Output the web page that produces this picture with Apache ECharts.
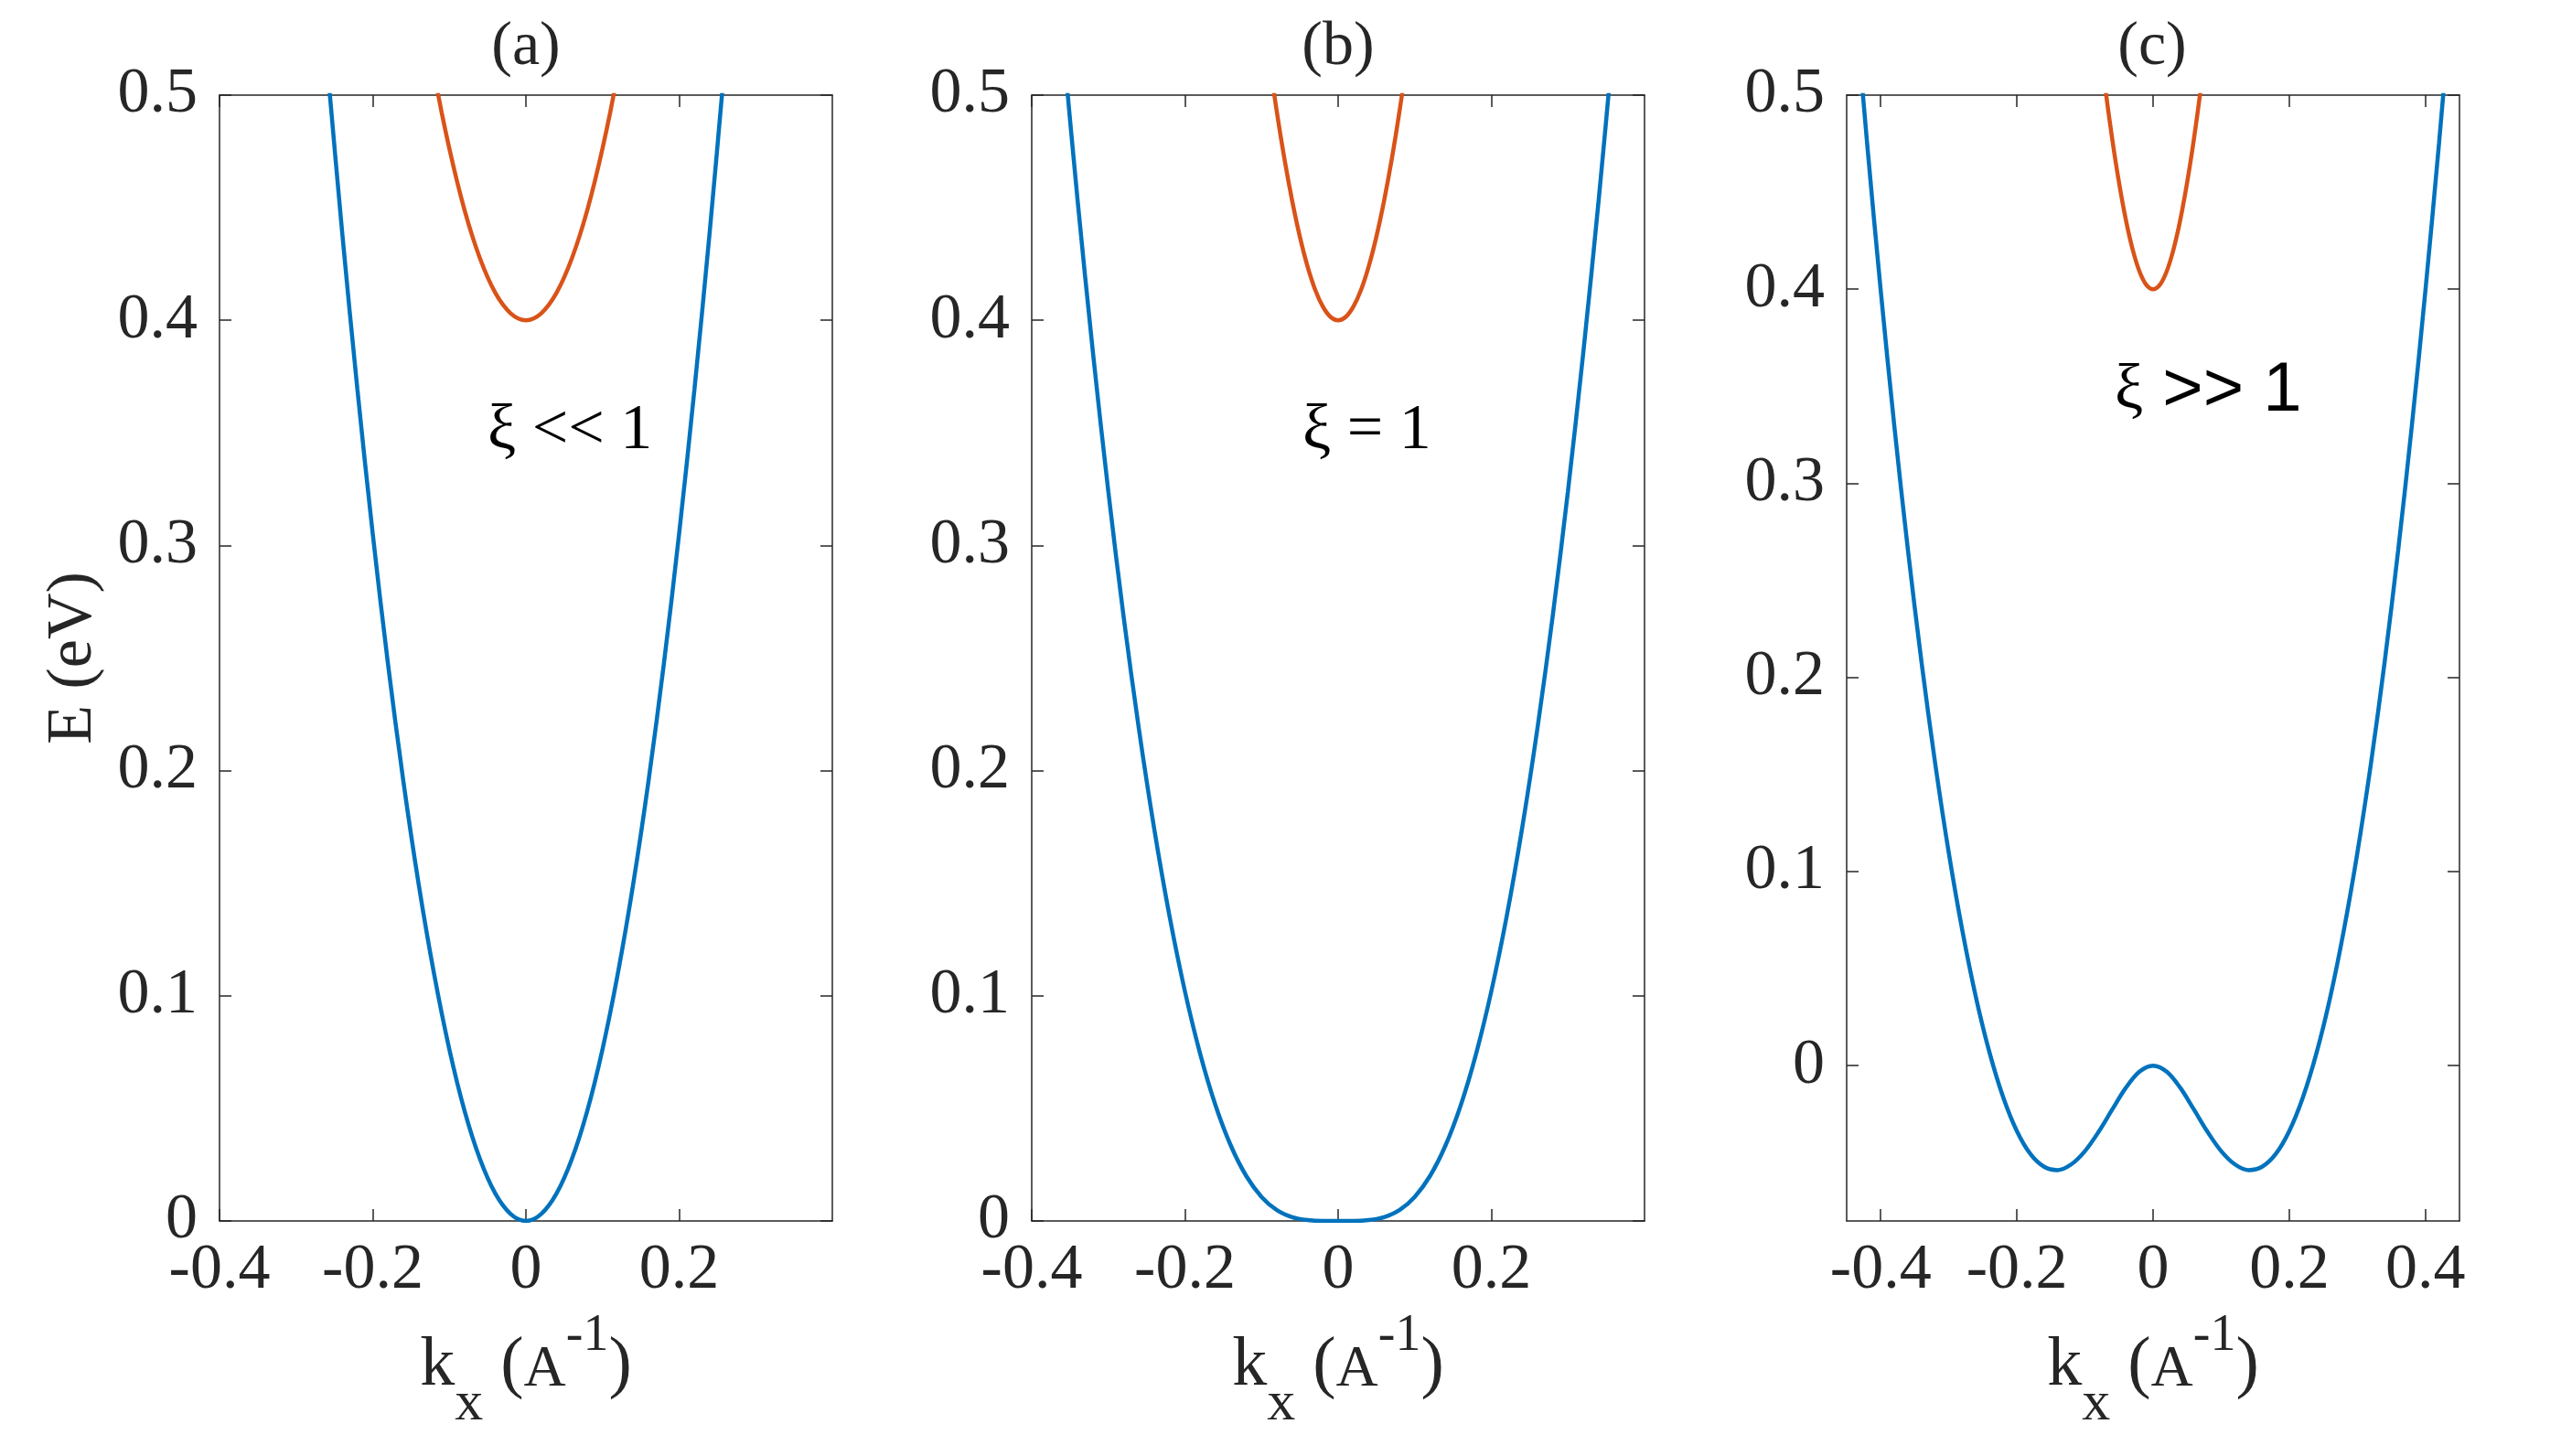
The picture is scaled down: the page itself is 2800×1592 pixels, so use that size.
<!DOCTYPE html>
<html>
<head>
<meta charset="utf-8">
<script src="https://cdn.jsdelivr.net/npm/echarts@6/dist/echarts.min.js"></script>
<style>
html,body{margin:0;padding:0;background:#ffffff;}
#chart{width:2800px;height:1592px;}
</style>
</head>
<body>
<div id="chart"></div>
<script>
// ---------- data ----------
const panelTitles = ['(a)', '(b)', '(c)'];

// tick labels
const xTicksAB = [-0.4, -0.2, 0, 0.2];
const xTicksC = [-0.4, -0.2, 0, 0.2, 0.4];
const yTicks = [0, 0.1, 0.2, 0.3, 0.4, 0.5];

// panel (a)  xi << 1
const kA = [-0.26,-0.24,-0.22,-0.20,-0.18,-0.16,-0.14,-0.12,-0.10,-0.08,-0.06,-0.04,-0.02,0,
            0.02,0.04,0.06,0.08,0.10,0.12,0.14,0.16,0.18,0.20,0.22,0.24,0.26];
const eALower = [0.5158,0.4395,0.3693,0.3052,0.2472,0.1953,0.1495,0.1099,0.0763,0.0488,0.0275,0.0122,0.0031,0,
                 0.0031,0.0122,0.0275,0.0488,0.0763,0.1099,0.1495,0.1953,0.2472,0.3052,0.3693,0.4395,0.5158];
const kAUp = [-0.12,-0.11,-0.10,-0.09,-0.08,-0.07,-0.06,-0.05,-0.04,-0.03,-0.02,-0.01,0,
              0.01,0.02,0.03,0.04,0.05,0.06,0.07,0.08,0.09,0.10,0.11,0.12];
const eAUpper = [0.5099,0.4923,0.4763,0.4618,0.4488,0.4374,0.4275,0.4191,0.4122,0.4069,0.4031,0.4008,0.4,
                 0.4008,0.4031,0.4069,0.4122,0.4191,0.4275,0.4374,0.4488,0.4618,0.4763,0.4923,0.5099];

// panel (b)  xi = 1
const kB = [-0.36,-0.34,-0.32,-0.30,-0.28,-0.26,-0.24,-0.22,-0.20,-0.18,-0.16,-0.14,-0.12,-0.10,-0.08,-0.06,-0.04,-0.02,0,
            0.02,0.04,0.06,0.08,0.10,0.12,0.14,0.16,0.18,0.20,0.22,0.24,0.26,0.28,0.30,0.32,0.34,0.36];
const eBLower = [0.5262,0.4529,0.3855,0.3240,0.2683,0.2183,0.1740,0.1352,0.1020,0.0741,0.0513,0.0334,0.0200,0.0107,0.0048,0.0017,0.0004,0.0000,0,
                 0.0000,0.0004,0.0017,0.0048,0.0107,0.0200,0.0334,0.0513,0.0741,0.1020,0.1352,0.1740,0.2183,0.2683,0.3240,0.3855,0.4529,0.5262];
const kBUp = [-0.09,-0.08,-0.07,-0.06,-0.05,-0.04,-0.03,-0.02,-0.01,0,0.01,0.02,0.03,0.04,0.05,0.06,0.07,0.08,0.09];
const eBUpper = [0.5158,0.4925,0.4715,0.4531,0.4372,0.4240,0.4136,0.4061,0.4015,0.4,
                 0.4015,0.4061,0.4136,0.4240,0.4372,0.4531,0.4715,0.4925,0.5158];

// panel (c)  xi >> 1
const kC = [-0.44,-0.42,-0.40,-0.38,-0.36,-0.34,-0.32,-0.30,-0.28,-0.26,-0.24,-0.22,-0.20,-0.18,-0.16,-0.14,-0.12,-0.10,-0.08,-0.06,-0.04,-0.02,0,
            0.02,0.04,0.06,0.08,0.10,0.12,0.14,0.16,0.18,0.20,0.22,0.24,0.26,0.28,0.30,0.32,0.34,0.36,0.38,0.40,0.42,0.44];
const eCLower = [0.5572,0.4753,0.3994,0.3295,0.2656,0.2077,0.1557,0.1096,0.0694,0.0350,0.0065,-0.0164,-0.0337,-0.0456,-0.0521,-0.0538,-0.0508,-0.0440,-0.0341,-0.0226,-0.0114,-0.0031,0,
                 -0.0031,-0.0114,-0.0226,-0.0341,-0.0440,-0.0508,-0.0538,-0.0521,-0.0456,-0.0337,-0.0164,0.0065,0.0350,0.0694,0.1096,0.1557,0.2077,0.2656,0.3295,0.3994,0.4753,0.5572];
const kCUp = [-0.08,-0.07,-0.06,-0.05,-0.04,-0.03,-0.02,-0.01,0,0.01,0.02,0.03,0.04,0.05,0.06,0.07,0.08];
const eCUpper = [0.5316,0.5031,0.4774,0.4549,0.4358,0.4205,0.4092,0.4023,0.4,
                 0.4023,0.4092,0.4205,0.4358,0.4549,0.4774,0.5031,0.5316];

// ---------- styling / layout ----------
const SERIF = '"Liberation Serif", "DejaVu Serif", serif';
const SANS = '"Liberation Sans", Arial, sans-serif';
const INK = '#262626';
const BLUE = '#0072BD';
const ORANGE = '#D95319';

const gridLefts = [240, 1128, 2019];
const gridTop = 104, gridW = 670, gridH = 1231;
const xRanges = [[-0.4, 0.4], [-0.4, 0.4], [-0.45, 0.45]];
const yRanges = [[0, 0.5], [0, 0.5], [-0.08, 0.5]];
const xTickSets = [xTicksAB, xTicksAB, xTicksC];

const pairs = (xs, ys) => xs.map((x, i) => [x, ys[i]]);

const grids = gridLefts.map(l => ({left: l, top: gridTop, width: gridW, height: gridH, containLabel: false}));

const axisLineStyle = {show: true, onZero: false, lineStyle: {color: INK, width: 1.5}};
const tickStyle = (vals) => ({show: true, inside: true, length: 13, lineStyle: {color: INK, width: 1.5}, customValues: vals});

const xName = '{k|k}{x|x}{p| (}{a|A}{s|-1}{p|)}';
const xNameRich = {
  k: {fontSize: 76, fontFamily: SERIF, color: INK},
  x: {fontSize: 62, fontFamily: SERIF, color: INK, padding: [84, 0, 0, 0]},
  p: {fontSize: 76, fontFamily: SERIF, color: INK},
  a: {fontSize: 64, fontFamily: SERIF, color: INK, padding: [8, 0, 0, 0]},
  s: {fontSize: 56, fontFamily: SERIF, color: INK, padding: [0, 0, 66, 0]}
};

const xAxes = [];
const yAxes = [];
for (let i = 0; i < 3; i++) {
  xAxes.push({
    type: 'value', gridIndex: i, position: 'bottom',
    min: xRanges[i][0], max: xRanges[i][1],
    axisLine: axisLineStyle,
    axisTick: tickStyle(xTickSets[i]),
    axisLabel: {show: true, customValues: xTickSets[i], margin: 20, fontSize: 70, fontFamily: SERIF, color: INK,
                formatter: v => String(v)},
    splitLine: {show: false},
    name: xName, nameLocation: 'middle', nameGap: 86,
    nameTextStyle: {rich: xNameRich, fontSize: 76, fontFamily: SERIF, color: INK}
  });
  yAxes.push({
    type: 'value', gridIndex: i, position: 'left',
    min: yRanges[i][0], max: yRanges[i][1],
    axisLine: axisLineStyle,
    axisTick: tickStyle(yTicks),
    axisLabel: {show: true, customValues: yTicks, margin: 24, fontSize: 70, fontFamily: SERIF, color: INK,
                formatter: v => String(v)},
    splitLine: {show: false},
    name: i === 0 ? 'E (eV)' : '', nameLocation: 'middle', nameGap: 124, nameRotate: 90,
    nameTextStyle: {fontSize: 70, fontFamily: SERIF, color: INK}
  });
}
for (let i = 0; i < 3; i++) {
  xAxes.push({
    type: 'value', gridIndex: i, position: 'top',
    min: xRanges[i][0], max: xRanges[i][1],
    axisLine: axisLineStyle, axisTick: tickStyle(xTickSets[i]),
    axisLabel: {show: false}, splitLine: {show: false}
  });
  yAxes.push({
    type: 'value', gridIndex: i, position: 'right',
    min: yRanges[i][0], max: yRanges[i][1],
    axisLine: axisLineStyle, axisTick: tickStyle(yTicks),
    axisLabel: {show: false}, splitLine: {show: false}
  });
}

const lineSeries = (idx, xs, ys, color) => ({
  type: 'line', xAxisIndex: idx, yAxisIndex: idx,
  data: pairs(xs, ys), showSymbol: false, symbol: 'none', smooth: 0.33, clip: true,
  lineStyle: {color: color, width: 4.5}, itemStyle: {color: color},
  emphasis: {disabled: true}, animation: false, z: 3
});

const series = [
  lineSeries(0, kA, eALower, BLUE),
  lineSeries(0, kAUp, eAUpper, ORANGE),
  lineSeries(1, kB, eBLower, BLUE),
  lineSeries(1, kBUp, eBUpper, ORANGE),
  lineSeries(2, kC, eCLower, BLUE),
  lineSeries(2, kCUp, eCUpper, ORANGE)
];

const titleCenters = [575, 1463, 2353];
const graphics = panelTitles.map((t, i) => ({
  type: 'text', x: titleCenters[i], y: 52,
  style: {text: t, font: '68px ' + SERIF, fill: INK, textAlign: 'center', textVerticalAlign: 'middle', align: 'center', verticalAlign: 'middle'}
}));
graphics.push({
  type: 'text', x: 533, y: 472,
  style: {text: 'ξ << 1', font: '70px ' + SERIF, fill: '#000000', textAlign: 'left', textVerticalAlign: 'middle', align: 'left', verticalAlign: 'middle'}
});
graphics.push({
  type: 'text', x: 1424, y: 472,
  style: {text: 'ξ = 1', font: '70px ' + SERIF, fill: '#000000', textAlign: 'left', textVerticalAlign: 'middle', align: 'left', verticalAlign: 'middle'}
});
graphics.push({
  type: 'text', x: 2312, y: 428,
  style: {text: '{g|ξ}{s| >> 1}', fill: '#000000', textAlign: 'left', textVerticalAlign: 'middle', align: 'left', verticalAlign: 'middle',
          rich: {g: {fontSize: 70, fontFamily: SERIF, fill: '#000000'}, s: {fontSize: 76, fontFamily: SANS, fill: '#000000'}}}
});

const chart = echarts.init(document.getElementById('chart'), null, {renderer: 'canvas'});
chart.setOption({
  backgroundColor: '#ffffff',
  animation: false,
  grid: grids,
  xAxis: xAxes,
  yAxis: yAxes,
  series: series,
  graphic: graphics
});
</script>
</body>
</html>
